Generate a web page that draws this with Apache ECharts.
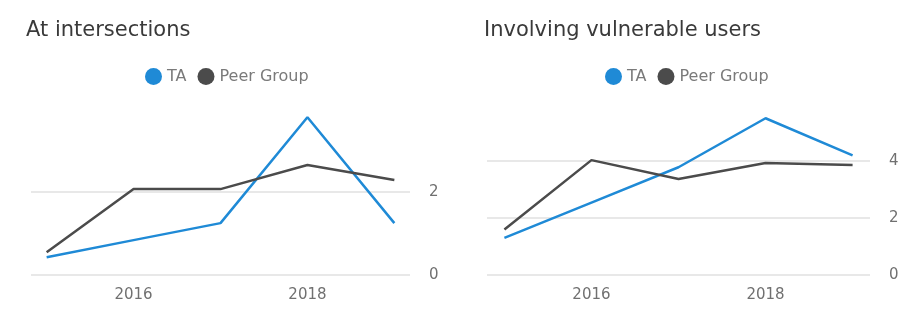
<!DOCTYPE html>
<html>
<head>
<meta charset="utf-8">
<script src="https://cdn.jsdelivr.net/npm/echarts@6/dist/echarts.min.js"></script>
<style>
html,body{margin:0;padding:0;background:#fff;}
#c{width:913px;height:316px;}
</style>
</head>
<body>
<div id="c"></div>
<script>
const years = [2015, 2016, 2017, 2018, 2019];
const yearTickLabels = [2016, 2018];
const intersectionsTA = [0.43, 0.84, 1.25, 3.8, 1.25];
const intersectionsPeer = [0.55, 2.07, 2.07, 2.65, 2.29];
const vulnerableTA = [1.3, 2.54, 3.78, 5.5, 4.2];
const vulnerablePeer = [1.6, 4.03, 3.37, 3.93, 3.86];
const leftTicks = [0, 2, 4];
const rightTicks = [0, 2, 4, 6];
const seriesNames = ['TA', 'Peer Group'];

const BLUE = '#1f8ad6';
const GREY = '#4b4b4b';
const FONT = 'DejaVu Sans';

const pair = (xs, ys) => xs.map((x, i) => [x, ys[i]]);

function xAxis(gridIndex, pad) {
  return {
    type: 'value', gridIndex: gridIndex,
    min: years[0] - pad, max: years[years.length - 1] + pad,
    axisLine: {show: false}, axisTick: {show: false}, splitLine: {show: false},
    axisLabel: {customValues: yearTickLabels, color: '#707070', fontSize: 15, fontFamily: FONT, margin: 13,
      formatter: v => String(Math.round(v))}
  };
}
function yAxis(gridIndex, ticks) {
  return {
    type: 'value', gridIndex: gridIndex, position: 'right',
    min: ticks[0], max: ticks[ticks.length - 1], interval: ticks[1] - ticks[0],
    axisLine: {show: false}, axisTick: {show: false},
    splitLine: {show: true, showMaxLine: false, lineStyle: {color: '#e1e1e1', width: 1.5}},
    axisLabel: {showMaxLabel: false, color: '#707070', fontSize: 15, fontFamily: FONT, margin: 19}
  };
}
function line(name, xIdx, data, color) {
  return {
    name: name, type: 'line', xAxisIndex: xIdx, yAxisIndex: xIdx,
    data: pair(years, data), symbol: 'none', color: color,
    lineStyle: {color: color, width: 2.5}
  };
}
function legend(left) {
  return {
    data: seriesNames, left: left, top: 63, icon: 'circle', itemWidth: 17, itemHeight: 17, itemGap: 11,
    textStyle: {color: '#7a7a7a', fontSize: 16, fontFamily: FONT}
  };
}

const chart = echarts.init(document.getElementById('c'), null, {renderer: 'canvas'});
chart.setOption({
  animation: false,
  title: [
    {text: 'At intersections', left: 21, top: 15, textStyle: {color: '#3a3a3a', fontSize: 21, fontWeight: 'normal', fontFamily: FONT}},
    {text: 'Involving vulnerable users', left: 479, top: 15, textStyle: {color: '#3a3a3a', fontSize: 21, fontWeight: 'normal', fontFamily: FONT}}
  ],
  legend: [legend(140), legend(600)],
  grid: [
    {left: 31, width: 379, top: 109, height: 166},
    {left: 487, width: 383, top: 104, height: 171}
  ],
  xAxis: [xAxis(0, 0.18), xAxis(1, 0.2)],
  yAxis: [yAxis(0, leftTicks), yAxis(1, rightTicks)],
  series: [
    line(seriesNames[0], 0, intersectionsTA, BLUE),
    line(seriesNames[1], 0, intersectionsPeer, GREY),
    line(seriesNames[0], 1, vulnerableTA, BLUE),
    line(seriesNames[1], 1, vulnerablePeer, GREY)
  ]
});
</script>
</body>
</html>
